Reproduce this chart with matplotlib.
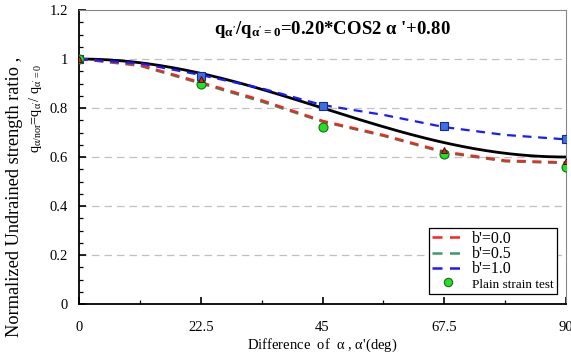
import numpy as np
import matplotlib
matplotlib.use("Agg")
import matplotlib.pyplot as plt
from matplotlib.ticker import MultipleLocator
from matplotlib.lines import Line2D

plt.rcParams['font.family'] = ['Liberation Serif', 'DejaVu Serif']
plt.rcParams['mathtext.fontset'] = 'custom'
plt.rcParams['mathtext.rm'] = 'Liberation Serif'
plt.rcParams['mathtext.it'] = 'Liberation Serif'
plt.rcParams['mathtext.bf'] = 'Liberation Serif:bold'

# ---- data ----
fit_A = 0.20
fit_B = 0.80

curve_x = [0, 11.25, 22.5, 33.75, 45, 56.25, 67.5, 78.75, 90]
b00_line = [1.0, 0.976, 0.905, 0.832, 0.748, 0.690, 0.622, 0.586, 0.578]
b05_line = [1.0, 0.972, 0.900, 0.826, 0.744, 0.686, 0.618, 0.582, 0.575]
b10_line = [1.0, 0.982, 0.935, 0.880, 0.812, 0.772, 0.722, 0.690, 0.672]

sq_x = [0, 22.5, 45, 67.5, 90]
sq_y = [1.0, 0.932, 0.808, 0.727, 0.673]
tri_x = [0, 22.5, 67.5, 90]
tri_y = [1.0, 0.917, 0.630, 0.584]
ps_x = [0, 22.5, 45, 67.5, 90]
ps_y = [1.0, 0.897, 0.724, 0.611, 0.560]

legend_labels = ["b'=0.0", "b'=0.5", "b'=1.0", "Plain strain test"]
x_ticks = [0, 22.5, 45, 67.5, 90]
x_ticklabels = ['0', '22.5', '45', '67.5', '90']
y_ticks = [0, 0.2, 0.4, 0.6, 0.8, 1.0, 1.2]
y_ticklabels = ['0', '0.2', '0.4', '0.6', '0.8', '1', '1.2']

W, H = 571, 356
fig = plt.figure(figsize=(W / 100, H / 100), dpi=100)
ax = fig.add_axes([79 / W, 1 - 304 / H, (566 - 79) / W, (304 - 10) / H])

for y in [0.2, 0.4, 0.6, 0.8, 1.0]:
    ax.axhline(y, color='#c0c0c0', lw=0.9, ls=(0, (6, 4)), zorder=0)

a = np.linspace(0, 90, 200)
ax.plot(a, fit_A * np.cos(np.radians(2 * a)) + fit_B, color='black', lw=2.0, zorder=3)

dash = (0, (4, 3))
ax.plot(curve_x, b05_line, color='#2e8b57', lw=1.6, ls=dash, zorder=4)
ax.plot(curve_x, b00_line, color='#ff2020', lw=1.6, ls=dash, zorder=4)
ax.plot(curve_x, b10_line, color='#1a1aff', lw=1.6, ls=dash, zorder=4)

ax.plot(sq_x, sq_y, ls='none', marker='s', ms=6, mfc='#3a6fe8', mec='#1a2a80', mew=0.8, zorder=5)
ax.plot(ps_x, ps_y, ls='none', marker='o', ms=6.5, mfc='#22e022', mec='#1a6a1a', mew=0.8, zorder=5)
ax.plot(tri_x, tri_y, ls='none', marker='^', ms=4.5, mfc='#e02020', mec='#401010', mew=0.7, zorder=6)

handles = [
    Line2D([], [], color='#ff2020', lw=1.8, ls=dash),
    Line2D([], [], color='#3a9a6a', lw=1.8, ls=dash),
    Line2D([], [], color='#1a1aff', lw=1.8, ls=dash),
    Line2D([], [], ls='none', marker='o', ms=6, mfc='#22e022', mec='#1a6a1a', mew=0.8),
]
leg = ax.legend(handles, legend_labels, loc='lower right',
                bbox_to_anchor=((557 - 79) / 487, 10 / 294),
                fontsize=11.5, frameon=True, fancybox=False,
                edgecolor='black', framealpha=1, handlelength=2.0, borderpad=0.2,
                labelspacing=-0.05, handletextpad=0.5, borderaxespad=0.0)
leg.get_frame().set_linewidth(0.9)
leg.get_texts()[3].set_fontsize(9.5)

ax.set_xlim(0, 90)
ax.set_ylim(0, 1.2)
ax.set_xticks(x_ticks)
ax.set_xticklabels(x_ticklabels)
ax.xaxis.set_minor_locator(MultipleLocator(11.25))
ax.set_yticks(y_ticks)
ax.set_yticklabels(y_ticklabels)
ax.yaxis.set_minor_locator(MultipleLocator(0.05))
ax.tick_params(axis='both', which='major', direction='in', length=5, width=1.2, labelsize=10.5)
ax.tick_params(axis='x', which='major', pad=12)
ax.tick_params(axis='y', which='major', pad=8)
ax.tick_params(axis='both', which='minor', direction='in', length=3, width=0.9)

ax.spines['left'].set_linewidth(1.3)
ax.spines['bottom'].set_linewidth(1.3)
ax.spines['top'].set_color('#888888')
ax.spines['right'].set_color('#888888')

ax.set_xlabel(r"Difference  of  $\alpha$ , $\alpha$'(deg)", fontsize=10.5, labelpad=2)

fig.text(15 / W, 1 - 197 / H, "Normalized Undrained strength ratio ,",
         rotation=90, fontsize=13.2, ha='center', va='center')
fig.text(36 / W, 1 - 109 / H,
         r"$\mathrm{q_{\alpha/nor}}$=$\mathrm{q_{\alpha'}}$/ $\mathrm{q_{\alpha'=0}}$",
         rotation=90, fontsize=10.3, ha='center', va='center')

ax.text((332 - 79) / 487, (304 - 30) / 294,
        r"$\mathbf{q_{\alpha'}/q_{\alpha'=0}}$=0.20*COS2 $\mathbf{\alpha}$ '+0.80",
        transform=ax.transAxes, fontsize=13.5, fontweight='bold', ha='center', va='center')

fig.savefig('out.png', dpi=100)
